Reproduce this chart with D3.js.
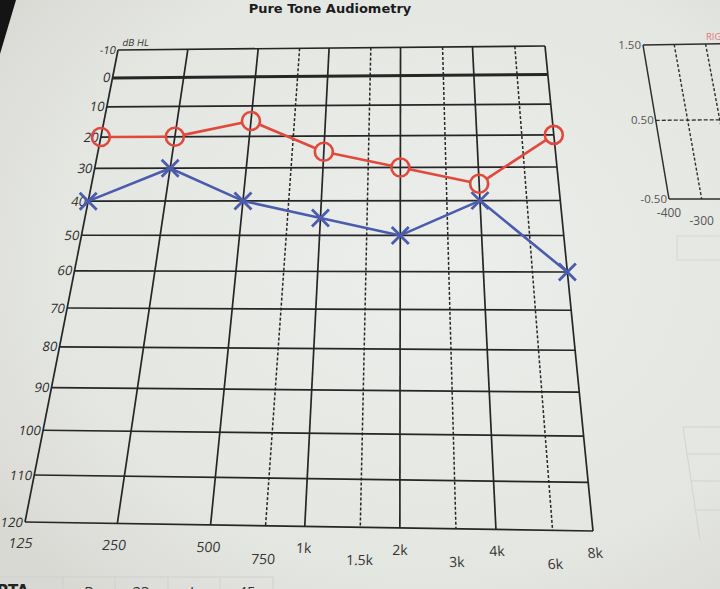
<!DOCTYPE html>
<html><head><meta charset="utf-8">
<script src="https://cdn.jsdelivr.net/npm/d3@7"></script>
<style>html,body{margin:0;padding:0;overflow:hidden;background:#e6e8e4}</style>
</head><body>
<svg id="c" width="720" height="589"></svg>
<script>
// ---------- data ----------
const freqs = [125, 250, 500, 1000, 2000, 4000, 8000];
const freqLabels = ["125", "250", "500", "1k", "2k", "4k", "8k"];
const halfFreqs = [750, 1500, 3000, 6000];
const halfLabels = ["750", "1.5k", "3k", "6k"];
const dbTicks = [-10, 0, 10, 20, 30, 40, 50, 60, 70, 80, 90, 100, 110, 120];
const rightEar = [20, 20, 15, 25, 30, 35, 20];   // red O
const leftEar  = [40, 30, 40, 45, 50, 40, 60];   // blue X
const miniYTicks = [1.5, 0.5, -0.5];
const miniYLabels = ["1.50", "0.50", "-0.50"];
const miniXTicks = [-400, -300];
const miniXGrid = [-300, -200, -100];
const ptaCells = ["R", "23", "L", "45"];

// ---------- helpers ----------
function makeH(p0, p1, p2, p3) { // (0,0),(1,0),(1,1),(0,1)
  const [x0,y0]=p0,[x1,y1]=p1,[x2,y2]=p2,[x3,y3]=p3;
  const dx1=x1-x2, dx2=x3-x2, dx3=x0-x1+x2-x3;
  const dy1=y1-y2, dy2=y3-y2, dy3=y0-y1+y2-y3;
  const den=dx1*dy2-dx2*dy1;
  const g=(dx3*dy2-dx2*dy3)/den, h=(dx1*dy3-dx3*dy1)/den;
  const a=x1-x0+g*x1, b=x3-x0+h*x3, c=x0, d=y1-y0+g*y1, e=y3-y0+h*y3, f=y0;
  return (u,v)=>{const w=g*u+h*v+1; return [(a*u+b*v+c)/w,(d*u+e*v+f)/w];};
}

const svg = d3.select("#c");
const defs = svg.append("defs");
const rg = defs.append("radialGradient").attr("id","paper").attr("cx","0.6").attr("cy","0.45").attr("r","0.75");
rg.append("stop").attr("offset","0").attr("stop-color","#eceeeb");
rg.append("stop").attr("offset","0.7").attr("stop-color","#e4e6e2");
rg.append("stop").attr("offset","1").attr("stop-color","#d9d9d4");
svg.append("rect").attr("width",720).attr("height",589).attr("fill","url(#paper)");

// dark corner (table edge)
svg.append("path").attr("d","M0,0L16,0L0,54Z").attr("fill","#141414");

// title
svg.append("text").attr("x",330).attr("y",13).attr("text-anchor","middle")
  .attr("font-family","DejaVu Sans, Verdana, sans-serif").attr("font-weight","bold")
  .attr("font-size",13).attr("fill","#1c1c1c").text("Pure Tone Audiometry");

// ---------- main audiogram ----------
const xS = d3.scaleLog().base(2).domain([125, 8000]).range([0, 1]);
const yS = d3.scaleLinear().domain([-10, 120]).range([0, 1]);
const H = makeH([118,50],[545,46],[593,531],[25,522]);
const P = (f, db) => H(xS(f), yS(db));
const skewAt = (f, db) => { const a=P(f,db), b=P(f,db+1); return Math.atan2(b[0]-a[0], b[1]-a[1])*180/Math.PI; };

const grid = svg.append("g").attr("stroke","#262626").attr("fill","none");
dbTicks.forEach(db => {
  const a = P(125, db), b = P(8000, db);
  grid.append("line").attr("x1",a[0]).attr("y1",a[1]).attr("x2",b[0]).attr("y2",b[1])
    .attr("stroke-width", db === 0 ? 3 : 1.7);
});
freqs.forEach(f => {
  const a = P(f, -10), b = P(f, 120);
  grid.append("line").attr("x1",a[0]).attr("y1",a[1]).attr("x2",b[0]).attr("y2",b[1]).attr("stroke-width",1.7);
});
halfFreqs.forEach(f => {
  const a = P(f, -10), b = P(f, 120);
  grid.append("line").attr("x1",a[0]).attr("y1",a[1]).attr("x2",b[0]).attr("y2",b[1])
    .attr("stroke-width",1.5).attr("stroke-dasharray","3,2");
});

const lblFont = "Open Sans, Liberation Sans, sans-serif";
// y labels
dbTicks.forEach(db => {
  const p = P(125, db);
  svg.append("text").attr("transform",`translate(${p[0]-2},${p[1]}) skewX(${skewAt(125,db)})`)
    .attr("text-anchor","end").attr("dy","0.35em").attr("font-family",lblFont)
    .attr("font-size", db === -10 ? 11 : 13).attr("fill","#2a2a2a").text(db);
});
{
  const p = P(125, -10);
  svg.append("text").attr("transform",`translate(${p[0]+4},${p[1]-4}) skewX(-10)`)
    .attr("font-family",lblFont).attr("font-size",9.5).attr("fill","#333").text("dB HL");
}
// x labels
freqs.forEach((f,i) => {
  const p = P(f, 124.4);
  svg.append("text").attr("transform",`translate(${p[0]},${p[1]}) skewX(${skewAt(f,120)})`)
    .attr("text-anchor","middle").attr("dy","0.35em").attr("font-family",lblFont)
    .attr("font-size",14).attr("fill","#333").text(freqLabels[i]);
});
halfFreqs.forEach((f,i) => {
  const p = P(f, 126.6);
  svg.append("text").attr("transform",`translate(${p[0]},${p[1]}) skewX(${skewAt(f,120)})`)
    .attr("text-anchor","middle").attr("dy","0.35em").attr("font-family",lblFont)
    .attr("font-size",14).attr("fill","#333").text(halfLabels[i]);
});

// series
const red = "#e2483c", blue = "#4b5cae";
const rPts = freqs.map((f,i) => P(f, rightEar[i]));
const lPts = freqs.map((f,i) => P(f, leftEar[i]));
const R = 9;

svg.append("path").attr("d", d3.line()(lPts)).attr("fill","none")
  .attr("stroke",blue).attr("stroke-width",2.6).attr("stroke-linejoin","round");
lPts.forEach(p => {
  const s = 8.5;
  svg.append("path").attr("transform",`translate(${p[0]},${p[1]})`)
    .attr("d",`M${-s},${-s}L${s},${s}M${-s},${s}L${s},${-s}`)
    .attr("stroke",blue).attr("stroke-width",2.8).attr("fill","none");
});

for (let i = 0; i < rPts.length - 1; i++) {
  const a = rPts[i], b = rPts[i+1];
  const dx = b[0]-a[0], dy = b[1]-a[1], L = Math.hypot(dx,dy);
  const ux = dx/L, uy = dy/L;
  svg.append("line").attr("x1",a[0]+ux*R).attr("y1",a[1]+uy*R)
    .attr("x2",b[0]-ux*R).attr("y2",b[1]-uy*R)
    .attr("stroke",red).attr("stroke-width",2.6);
}
rPts.forEach(p => {
  svg.append("circle").attr("cx",p[0]).attr("cy",p[1]).attr("r",R)
    .attr("fill","none").attr("stroke",red).attr("stroke-width",2.6);
});

// ---------- partial chart on the right ----------
const mx = d3.scaleLinear().domain([-400, 0]).range([0, 1]);
const my = d3.scaleLinear().domain([1.5, -0.5]).range([0, 1]);
const M = makeH([643,45],[769,43],[801,199],[669,199]);
const MP = (x, y) => M(mx(x), my(y));
const mg = svg.append("g").attr("stroke","#2e2e2e").attr("fill","none");
[[MP(-400,1.5), MP(0,1.5)], [MP(-400,-0.5), MP(0,-0.5)], [MP(-400,1.5), MP(-400,-0.5)]].forEach(([a,b]) =>
  mg.append("line").attr("x1",a[0]).attr("y1",a[1]).attr("x2",b[0]).attr("y2",b[1]).attr("stroke-width",1.5));
miniXGrid.forEach(x => {
  const a = MP(x,1.5), b = MP(x,-0.5);
  mg.append("line").attr("x1",a[0]).attr("y1",a[1]).attr("x2",b[0]).attr("y2",b[1])
    .attr("stroke-width",1.4).attr("stroke-dasharray","3,2");
});
{
  const a = MP(-400,0.5), b = MP(0,0.5);
  mg.append("line").attr("x1",a[0]).attr("y1",a[1]).attr("x2",b[0]).attr("y2",b[1])
    .attr("stroke-width",1.3).attr("stroke-dasharray","4,2");
}
miniYTicks.forEach((v,i) => {
  const p = MP(-400, v);
  svg.append("text").attr("x",p[0]-2).attr("y",p[1]).attr("dy","0.35em").attr("text-anchor","end")
    .attr("font-family",lblFont).attr("font-size",11.5).attr("fill","#555").text(miniYLabels[i]);
});
miniXTicks.forEach((v,i) => {
  const p = MP(v, -0.5);
  svg.append("text").attr("x",p[0]).attr("y",p[1] + 14 + i*8).attr("dy","0.35em").attr("text-anchor","middle")
    .attr("font-family",lblFont).attr("font-size",12).attr("fill","#555").text(v);
});
svg.append("text").attr("x",706).attr("y",40).attr("font-family",lblFont).attr("font-size",9.5)
  .attr("fill","#e87583").text("RIGHT");

// faint boxes on the far right
svg.append("rect").attr("x",677).attr("y",236).attr("width",60).attr("height",24)
  .attr("fill","none").attr("stroke","#d6d7d3").attr("stroke-width",1);
const ft = svg.append("g").attr("stroke","#d2d3cf").attr("stroke-width",1).attr("fill","none");
ft.append("line").attr("x1",683).attr("y1",427).attr("x2",700).attr("y2",540);
[427, 454, 481, 510].forEach((y,i) => ft.append("line").attr("x1",683 + i*4).attr("y1",y).attr("x2",720).attr("y2",y));

// ---------- PTA strip at the bottom ----------
svg.append("rect").attr("x",0).attr("y",577).attr("width",63).attr("height",14).attr("fill","#d8d8d4");
const pg = svg.append("g").attr("stroke","#cfd0cc").attr("stroke-width",1);
pg.append("line").attr("x1",0).attr("y1",577).attr("x2",273).attr("y2",577);
[63,115,168,220,273].forEach(x => pg.append("line").attr("x1",x).attr("y1",577).attr("x2",x).attr("y2",589));
svg.append("text").attr("x",-3).attr("y",596).attr("font-family","DejaVu Sans, sans-serif").attr("font-weight","bold")
  .attr("font-size",15).attr("fill","#222").text("PTA");
[89,141,194,247].forEach((x,i) => svg.append("text").attr("x",x).attr("y",597).attr("text-anchor","middle")
  .attr("font-family",lblFont).attr("font-size",15).attr("fill","#333").text(ptaCells[i]));
</script>
</body></html>
